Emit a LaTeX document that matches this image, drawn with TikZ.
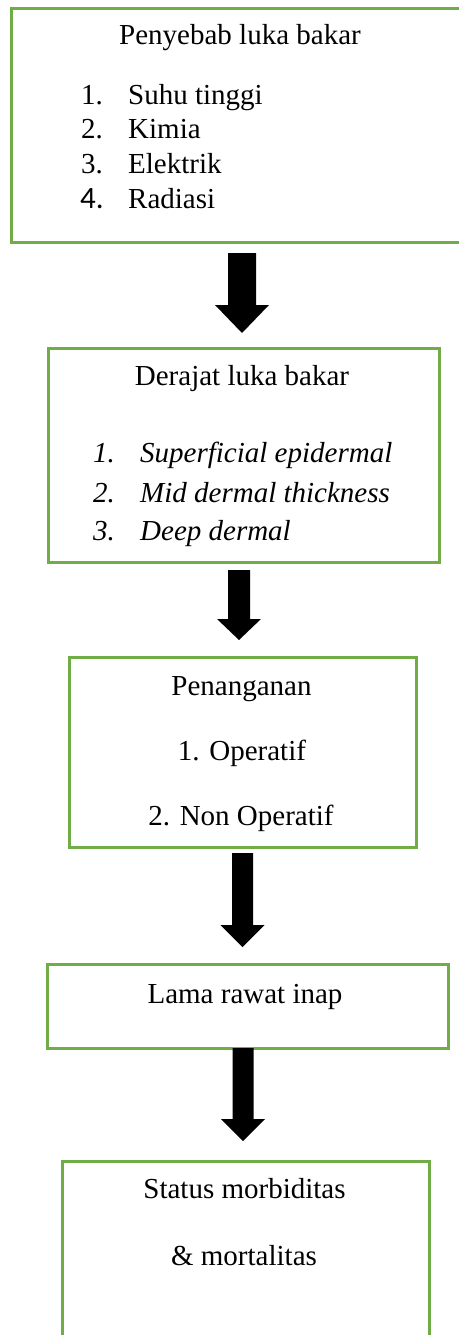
\documentclass[tikz,border=0pt]{standalone}
\usepackage{fontspec}
\setmainfont{Liberation Serif}
\newfontfamily\calfont{Carlito}
\definecolor{boxgreen}{HTML}{70AD47}
\begin{document}
\begin{tikzpicture}[x=1pt,y=-1pt,
  box/.style={draw=boxgreen,line width=2.6pt,fill=none,inner sep=0pt,anchor=north west},
  txt/.style={inner sep=0pt,font=\fontsize{29}{35}\selectfont},
  ctxt/.style={txt,anchor=base},
  ltxt/.style={txt,anchor=base west},
  itxt/.style={ltxt,font=\fontsize{29}{35}\selectfont\itshape},
  blockarrow/.style={fill=black}]
\useasboundingbox (0,0) rectangle (458,1335);
\newcommand{\barrow}[6]{% cx, top, headstart, tip, shafthalf, headhalf
  \fill[blockarrow] (#1-#5,#2) -- (#1+#5,#2) -- (#1+#5,#3) -- (#1+#6,#3) -- (#1,#4) -- (#1-#6,#3) -- (#1-#5,#3) -- cycle;}
% boxes
\node[box,minimum width=470pt,minimum height=234pt] (b1) at (10,7) {};
\node[box,minimum width=391pt,minimum height=214pt] (b2) at (47,347) {};
\node[box,minimum width=347pt,minimum height=190pt] (b3) at (68,656) {};
\node[box,minimum width=401pt,minimum height=84pt] (b4) at (46,963) {};
\node[box,minimum width=367pt,minimum height=200pt] (b5) at (61,1160) {};
% box 1 text
\node[ctxt] (t1) at (240,45) {Penyebab luka bakar};
\node[ltxt] (n11) at (81,105) {1.};
\node[ltxt] (i11) at (128,105) {Suhu tinggi};
\node[ltxt] (n12) at (81,139) {2.};
\node[ltxt] (i12) at (128,139) {Kimia};
\node[ltxt] (n13) at (81,173) {3.};
\node[ltxt] (i13) at (128,173) {Elektrik};
\node[ltxt,font=\fontsize{31}{35}\calfont] (n14) at (80,208) {4.};
\node[ltxt] (i14) at (128,208) {Radiasi};
% box 2 text
\node[ctxt] (t2) at (242,385) {Derajat luka bakar};
\node[itxt] (n21) at (93,462) {1.};
\node[itxt] (i21) at (140,462) {Superficial epidermal};
\node[itxt] (n22) at (93,502) {2.};
\node[itxt] (i22) at (140,502) {Mid dermal thickness};
\node[itxt] (n23) at (93,540) {3.};
\node[itxt] (i23) at (140,540) {Deep dermal};
% box 3 text
\node[ctxt] (t3) at (241.5,695) {Penanganan};
\node[ctxt] (i31) at (242,760) {1. Operatif};
\node[ctxt] (i32) at (241,825) {2. Non Operatif};
% box 4 text
\node[ctxt] (t4) at (245,1003) {Lama rawat inap};
% box 5 text
\node[ctxt] (t5) at (244.5,1198) {Status morbiditas};
\node[ctxt] (t52) at (244,1265) {\& mortalitas};
% block arrows
\barrow{242}{253}{305}{333}{14}{27}
\barrow{239}{570}{619}{640}{11}{22}
\barrow{242.5}{853}{925}{947}{10.5}{22}
\barrow{243}{1048}{1119}{1141}{10.5}{22}
\end{tikzpicture}
\end{document}
